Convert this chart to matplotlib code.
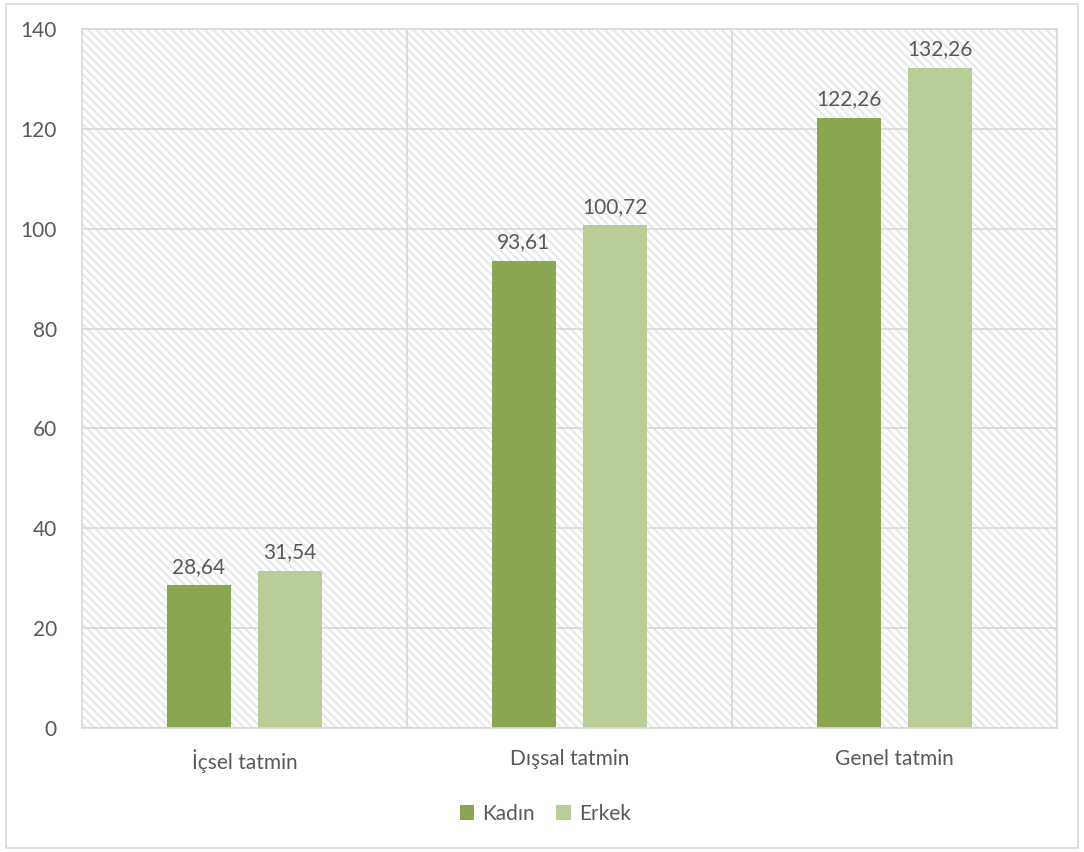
import matplotlib
matplotlib.use("Agg")
from matplotlib import pyplot as plt
from matplotlib.patches import Rectangle
import numpy as np

# satisfaction scores by gender
categories = ["İçsel tatmin", "Dışsal tatmin", "Genel tatmin"]
kadin = [28.64, 93.61, 122.26]
erkek = [31.54, 100.72, 132.26]
series_names = ["Kadın", "Erkek"]
yticks = [0, 20, 40, 60, 80, 100, 120, 140]

green_dark = "#8BA650"
green_light = "#B9CE96"
grid_gray = "#D9D9D9"
text_gray = "#595959"
fs = 15

plt.rcParams['font.family'] = ['Lato', 'DejaVu Sans']
plt.rcParams['hatch.linewidth'] = 1.5
plt.rcParams['hatch.color'] = "#E8E8E8"

fig = plt.figure(figsize=(10.84, 8.52), dpi=100)
ax = fig.add_axes([0.0756, 0.1455, 0.8994, 0.8204])

# striped plot background
bg = Rectangle((0, 0), 1, 1, transform=ax.transAxes, facecolor="white",
               edgecolor="#E8E8E8", hatch="\\\\\\\\", linewidth=0, zorder=0)
ax.add_patch(bg)

x = np.arange(len(categories))
width = 0.195
offset = 0.14
b1 = ax.bar(x - offset, kadin, width, color=green_dark, zorder=3, label=series_names[0])
b2 = ax.bar(x + offset, erkek, width, color=green_light, zorder=3, label=series_names[1])

for bars, vals in ((b1, kadin), (b2, erkek)):
    for rect, v in zip(bars, vals):
        ax.annotate(("%.2f" % v).replace(".", ","),
                    (rect.get_x() + rect.get_width() / 2, v),
                    xytext=(0, 6), textcoords="offset points",
                    ha="center", va="bottom", fontsize=fs, color=text_gray)

ax.set_xlim(-0.5, 2.5)
ax.set_ylim(0, 140)
ax.set_yticks(yticks)
ax.set_xticks(x)
ax.set_xticklabels(categories)

# horizontal grid at every tick, vertical lines between categories
for y in yticks:
    ax.axhline(y, color=grid_gray, linewidth=1.2, zorder=1)
for xv in (0.5, 1.5):
    ax.axvline(xv, color=grid_gray, linewidth=1.2, zorder=1)

for s in ax.spines.values():
    s.set_color(grid_gray)
    s.set_linewidth(1.2)
ax.spines['bottom'].set_zorder(4)

ax.tick_params(axis="both", length=0, labelsize=fs, colors=text_gray)
ax.tick_params(axis="y", pad=18)
ax.tick_params(axis="x", pad=15)

fig.legend(handles=[b1, b2], labels=series_names, loc="center",
           bbox_to_anchor=(0.503, 0.045), ncol=2, frameon=False,
           fontsize=fs, labelcolor=text_gray, handlelength=0.7,
           handleheight=0.7, handletextpad=0.4, columnspacing=1.0)

# chart border
fig.patches.append(Rectangle((6 / 1084, 4 / 852), 1072 / 1084, 844 / 852,
                             transform=fig.transFigure, fill=False,
                             edgecolor=grid_gray, linewidth=1.2))

fig.savefig("out.png", dpi=100)
